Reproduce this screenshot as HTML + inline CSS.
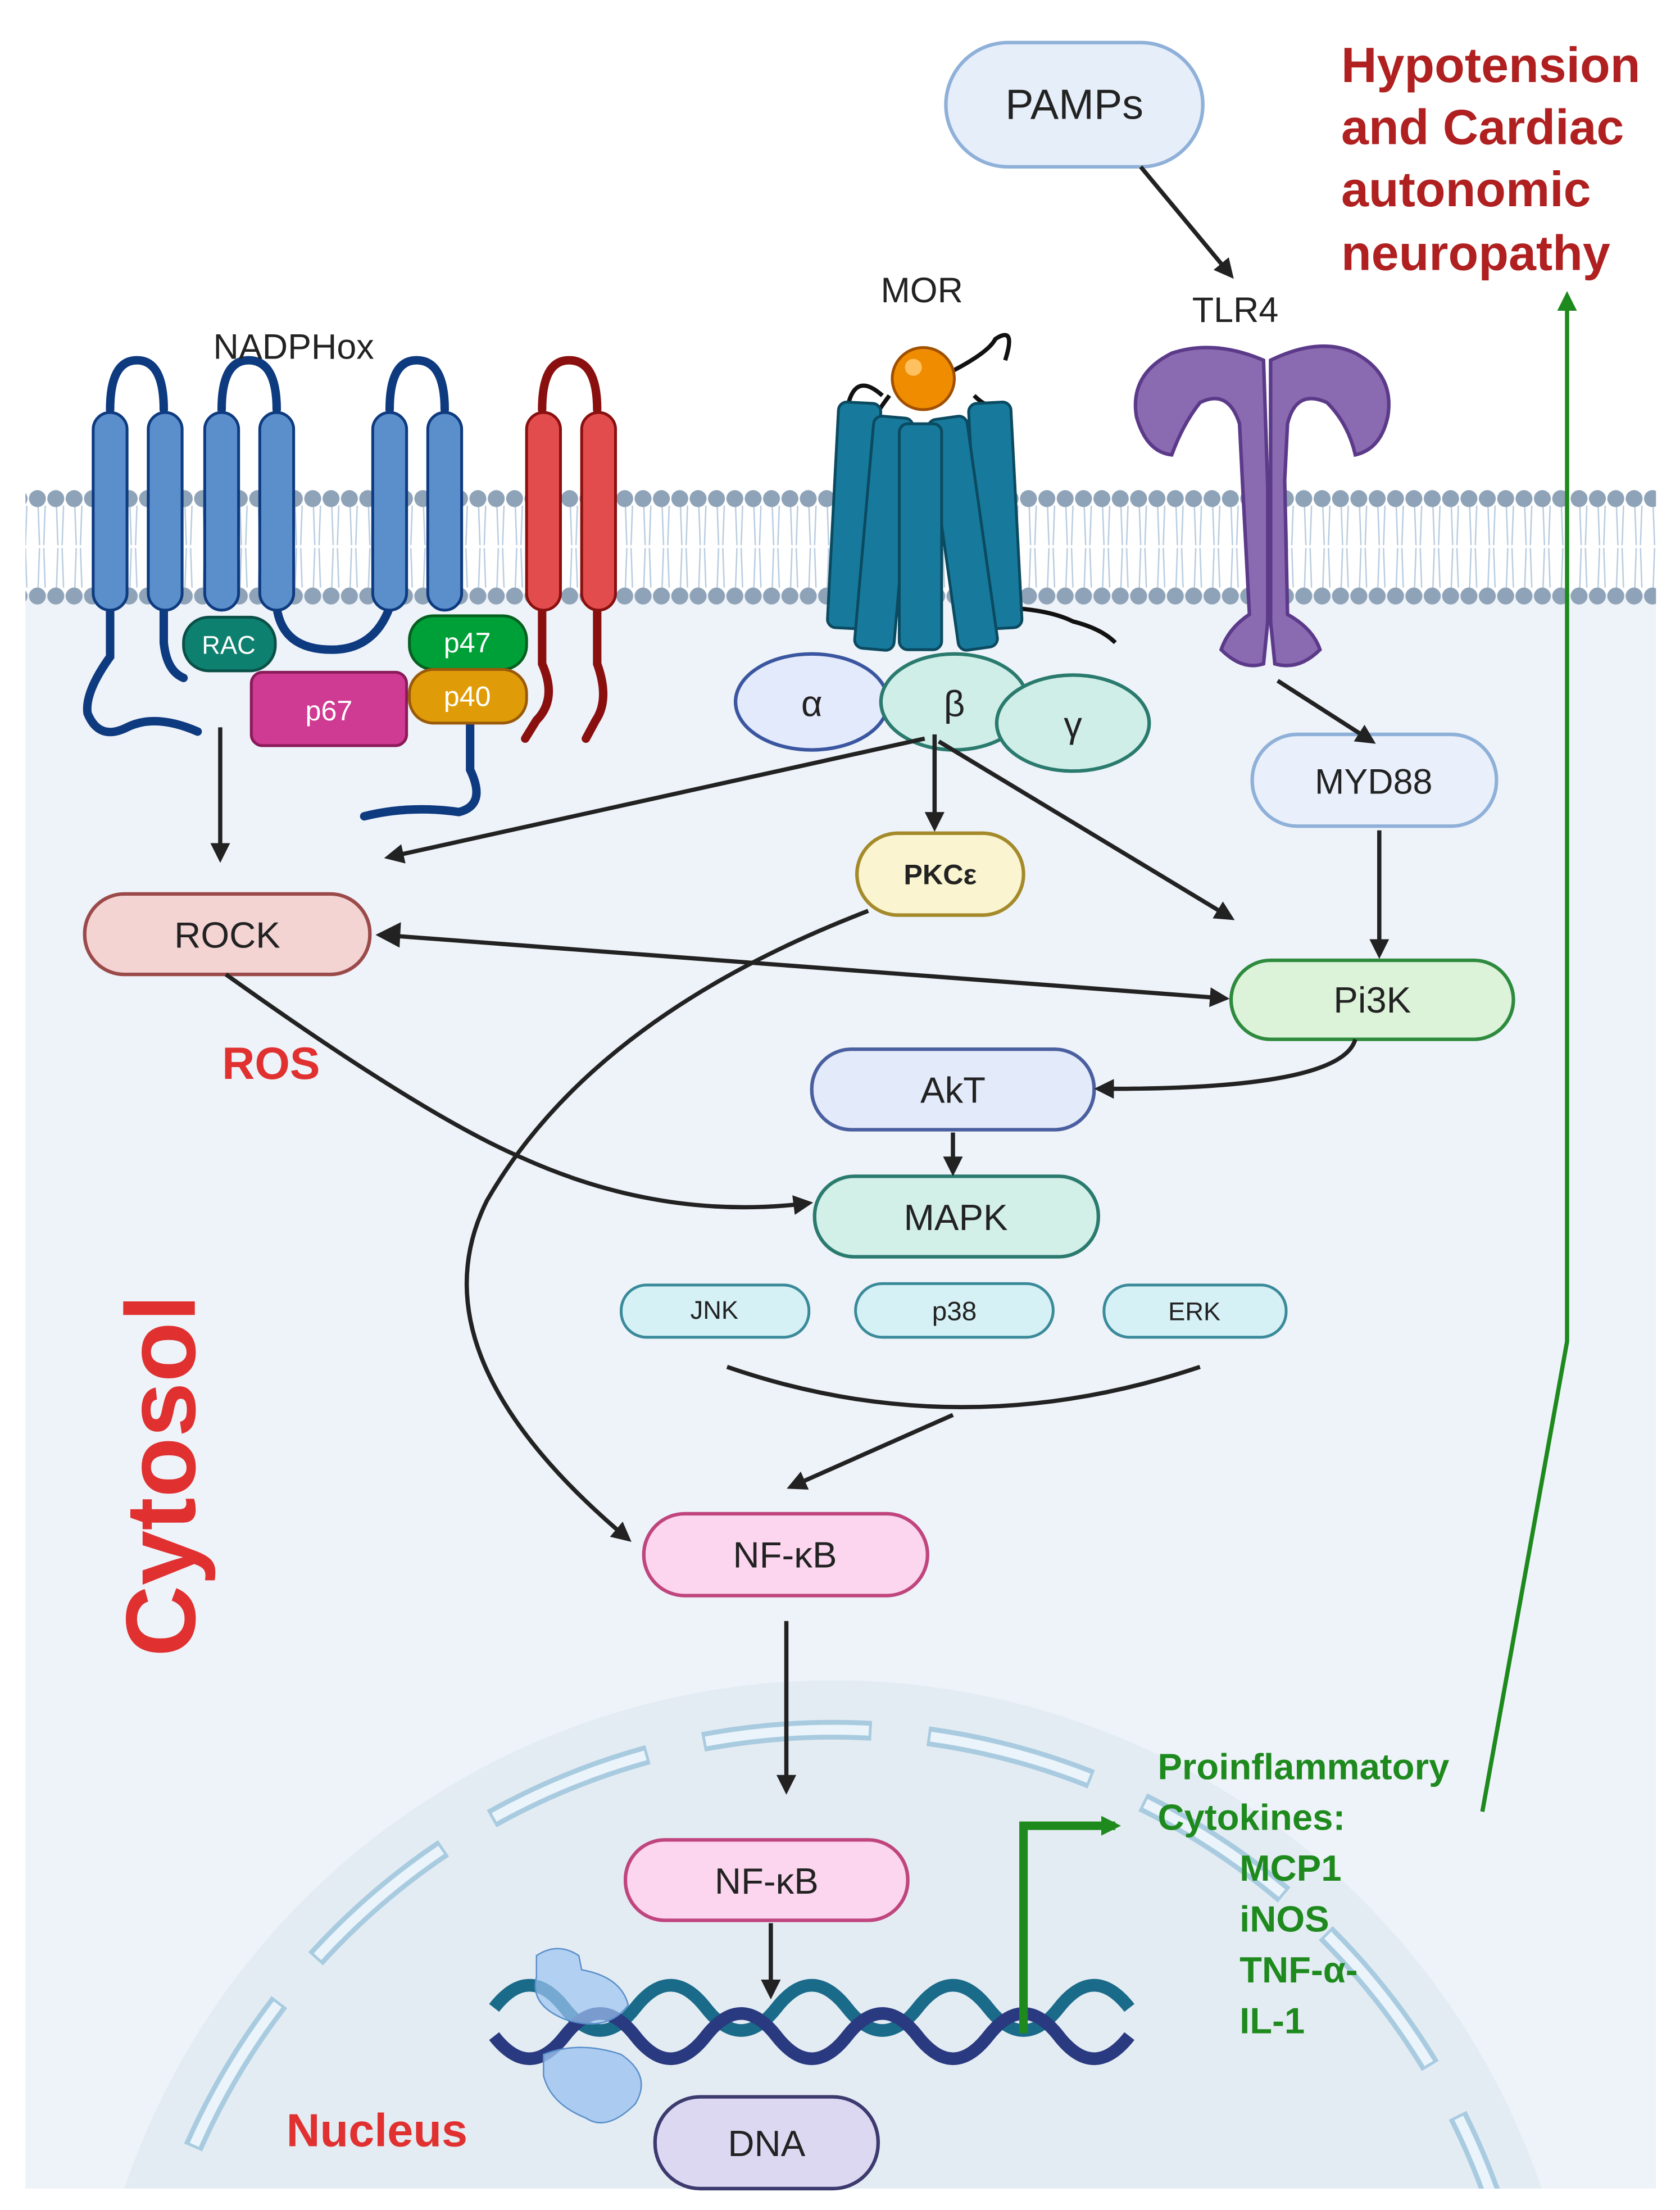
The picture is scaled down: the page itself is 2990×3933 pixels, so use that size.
<!DOCTYPE html>
<html><head><meta charset="utf-8"><style>html,body{margin:0;padding:0;background:#fff;width:2990px;height:3933px;overflow:hidden}svg{display:block}text{font-family:"Liberation Sans",sans-serif}</style></head><body>
<svg xmlns="http://www.w3.org/2000/svg" width="2990" height="3933" viewBox="0 0 1190 1565">
<defs>
<marker id="ah" markerWidth="14" markerHeight="14" refX="11" refY="7" orient="auto" markerUnits="userSpaceOnUse" viewBox="0 0 14 14"><path d="M0,0 L14,7 L0,14 z" fill="#222"/></marker>
<marker id="ahg" markerWidth="14" markerHeight="14" refX="10" refY="7" orient="auto" markerUnits="userSpaceOnUse" viewBox="0 0 14 14"><path d="M0,0 L14,7 L0,14 z" fill="#1e8a1e"/></marker>
<pattern id="lip" width="13" height="70" patternUnits="userSpaceOnUse" x="23" y="352">
<path d="M4,6 L5,34 M9,6 L8,34 M4,64 L5,36 M9,64 L8,36" stroke="#b8cce0" stroke-width="1" fill="none"/>
</pattern>
<pattern id="head" width="13" height="200" patternUnits="userSpaceOnUse" x="20" y="343">
<circle cx="6.5" cy="10" r="6" fill="#8fa3b8"/></pattern>
<pattern id="head2" width="13" height="200" patternUnits="userSpaceOnUse" x="20" y="412">
<circle cx="6.5" cy="10" r="6" fill="#8fa3b8"/></pattern>
</defs>
<rect width="1190" height="1565" fill="#fff"/>
<rect x="18" y="420" width="1155" height="1130" fill="#eef3f9"/>
<clipPath id="cl"><rect x="18" y="420" width="1155" height="1130"/></clipPath>
<g clip-path="url(#cl)">
<circle cx="590" cy="1720" r="530" fill="#e4ecf3"/>
<circle cx="590" cy="1720" r="495" fill="none" stroke="#a9cbe0" stroke-width="14" stroke-dasharray="120 40"/>
<circle cx="590" cy="1720" r="495" fill="none" stroke="#eaf4fa" stroke-width="7" stroke-dasharray="116 44" stroke-dashoffset="-2"/>
</g>
<rect x="18" y="352" width="1155" height="70" fill="url(#lip)"/>
<rect x="18" y="343" width="1155" height="20" fill="url(#head)"/>
<rect x="18" y="412" width="1155" height="20" fill="url(#head2)"/>
<g fill="none" stroke="#0e3a80" stroke-width="6" stroke-linecap="round">
<path d="M78,290 Q78,255 97,255 Q116,255 116,290"/>
<path d="M157,290 Q157,255 176,255 Q196,255 196,290"/>
<path d="M276,290 Q276,255 295,255 Q315,255 315,290"/>
<path d="M78,430 L78,465 Q60,490 62,505 Q70,525 90,515 Q110,505 140,518"/>
<path d="M116,430 L116,455 Q118,475 130,480"/>
<path d="M196,430 Q200,460 235,460 Q265,460 276,430"/>
<path d="M333,510 L333,545 Q345,570 325,575 Q290,570 258,578"/>
</g>
<g fill="none" stroke="#8a1010" stroke-width="6" stroke-linecap="round">
<path d="M384,290 Q384,255 403,255 Q423,255 423,290"/>
<path d="M384,430 L384,470 Q395,495 380,510 L372,523"/>
<path d="M423,430 L423,470 Q432,495 422,510 L415,523"/>
</g>
<g fill="#5a8fcb" stroke="#0e3a80" stroke-width="2">
<rect x="66" y="292" width="24" height="140" rx="12"/><rect x="105" y="292" width="24" height="140" rx="12"/>
<rect x="145" y="292" width="24" height="140" rx="12"/><rect x="184" y="292" width="24" height="140" rx="12"/>
<rect x="264" y="292" width="24" height="140" rx="12"/><rect x="303" y="292" width="24" height="140" rx="12"/>
</g>
<g fill="#e24c4c" stroke="#8a1010" stroke-width="2">
<rect x="373" y="292" width="24" height="140" rx="12"/><rect x="412" y="292" width="24" height="140" rx="12"/>
</g>
<rect x="130" y="437" width="65" height="38" rx="18" fill="#0e8070" stroke="#0a5048" stroke-width="2"/>
<text x="162" y="463" font-size="18" fill="#fff" text-anchor="middle">RAC</text>
<rect x="178" y="476" width="110" height="52" rx="8" fill="#cf3a92" stroke="#8a1a5a" stroke-width="2"/>
<text x="233" y="510" font-size="20" fill="#fff" text-anchor="middle">p67</text>
<rect x="290" y="436" width="83" height="38" rx="17" fill="#00a038" stroke="#05601f" stroke-width="2"/>
<text x="331" y="462" font-size="20" fill="#fff" text-anchor="middle">p47</text>
<rect x="290" y="474" width="83" height="38" rx="17" fill="#e09c08" stroke="#9a5a08" stroke-width="2"/>
<text x="331" y="500" font-size="20" fill="#fff" text-anchor="middle">p40</text>
<text x="208" y="254" font-size="25" fill="#222" text-anchor="middle">NADPHox</text>
<text x="653" y="214" font-size="25" fill="#222" text-anchor="middle">MOR</text>
<path d="M600,290 Q605,262 625,280 M670,265 Q700,250 705,240 Q720,230 712,255 M690,280 Q700,290 705,285 M630,280 Q615,300 620,300" fill="none" stroke="#111" stroke-width="3"/>
<path d="M700,430 Q740,430 760,440 Q780,445 790,455" fill="none" stroke="#111" stroke-width="3"/>
<g fill="#177a9c" stroke="#0b4a60" stroke-width="2">
<rect x="590" y="285" width="30" height="160" rx="6" transform="rotate(3 605 365)"/>
<rect x="690" y="285" width="30" height="160" rx="6" transform="rotate(-3 705 365)"/>
<rect x="612" y="295" width="28" height="165" rx="6" transform="rotate(5 626 378)"/>
<rect x="668" y="295" width="28" height="165" rx="6" transform="rotate(-8 682 378)"/>
<rect x="637" y="300" width="30" height="160" rx="6"/>
</g>
<circle cx="654" cy="268" r="22" fill="#f08c00" stroke="#a05000" stroke-width="2"/>
<circle cx="647" cy="260" r="6" fill="#ffc060"/>
<ellipse cx="575" cy="497" rx="54" ry="34" fill="#e3eafb" stroke="#3b56a0" stroke-width="2.5"/>
<text x="575" y="507" font-size="26" fill="#222" text-anchor="middle">α</text>
<ellipse cx="676" cy="497" rx="52" ry="34" fill="#cfeee8" stroke="#2a7a6e" stroke-width="2.5"/>
<text x="676" y="507" font-size="26" fill="#222" text-anchor="middle">β</text>
<ellipse cx="760" cy="512" rx="54" ry="34" fill="#cfeee8" stroke="#2a7a6e" stroke-width="2.5"/>
<text x="760" y="522" font-size="26" fill="#222" text-anchor="middle">γ</text>
<text x="875" y="228" font-size="25" fill="#222" text-anchor="middle">TLR4</text>
<g fill="#8a6ab0" stroke="#5c3a8a" stroke-width="2.5">
<path d="M895,255 Q860,240 830,250 Q800,265 805,295 Q812,320 830,322 Q838,300 850,285 Q870,275 878,300 L880,340 L885,435 Q870,445 865,460 Q880,475 895,470 L898,440 L898,345 Z"/>
<path d="M900,255 Q935,238 960,250 Q988,265 983,295 Q978,318 960,322 Q955,300 940,285 Q918,275 912,300 L910,340 L912,435 Q930,445 935,460 Q920,475 903,470 L900,440 L900,345 Z"/>
</g>
<rect x="670" y="30" width="182" height="88" rx="44" fill="#e6eefa" stroke="#8fb0d8" stroke-width="2.5"/>
<text x="761" y="84" font-size="30" fill="#222" text-anchor="middle">PAMPs</text>
<rect x="887" y="520" width="173" height="65" rx="32" fill="#e9f0fb" stroke="#8fb0d8" stroke-width="2.5"/>
<text x="973" y="562" font-size="25" fill="#222" text-anchor="middle">MYD88</text>
<rect x="607" y="590" width="118" height="58" rx="29" fill="#faf5d0" stroke="#a48a2a" stroke-width="2.5"/>
<text x="666" y="626" font-size="20" font-weight="bold" fill="#222" text-anchor="middle">PKCε</text>
<rect x="60" y="633" width="202" height="57" rx="28" fill="#f4d3d3" stroke="#9b4a4a" stroke-width="2.5"/>
<text x="161" y="671" font-size="26" fill="#222" text-anchor="middle">ROCK</text>
<rect x="872" y="680" width="200" height="56" rx="28" fill="#dcf3d9" stroke="#2e8b3e" stroke-width="2.5"/>
<text x="972" y="717" font-size="26" fill="#222" text-anchor="middle">Pi3K</text>
<rect x="575" y="743" width="200" height="57" rx="28" fill="#e3eaf9" stroke="#4a5f9f" stroke-width="2.5"/>
<text x="675" y="781" font-size="26" fill="#222" text-anchor="middle">AkT</text>
<rect x="577" y="833" width="201" height="57" rx="28" fill="#d2efe8" stroke="#2a7a6e" stroke-width="2.5"/>
<text x="677" y="871" font-size="26" fill="#222" text-anchor="middle">MAPK</text>
<rect x="440" y="910" width="133" height="37" rx="18" fill="#d5f1f6" stroke="#3a8a9a" stroke-width="2"/>
<text x="506" y="934" font-size="18" fill="#222" text-anchor="middle">JNK</text>
<rect x="606" y="909" width="140" height="38" rx="19" fill="#d5f1f6" stroke="#3a8a9a" stroke-width="2"/>
<text x="676" y="935" font-size="19" fill="#222" text-anchor="middle">p38</text>
<rect x="782" y="910" width="129" height="37" rx="18" fill="#d5f1f6" stroke="#3a8a9a" stroke-width="2"/>
<text x="846" y="935" font-size="18" fill="#222" text-anchor="middle">ERK</text>
<rect x="456" y="1072" width="201" height="58" rx="29" fill="#fbd6ee" stroke="#c0457e" stroke-width="2.5"/>
<text x="556" y="1110" font-size="26" fill="#222" text-anchor="middle">NF-κB</text>
<rect x="443" y="1303" width="200" height="57" rx="28" fill="#fbd6ee" stroke="#c0457e" stroke-width="2.5"/>
<text x="543" y="1341" font-size="26" fill="#222" text-anchor="middle">NF-κB</text>
<path d="M350,1432 Q375,1400 400,1432 T450,1432 T500,1432 T550,1432 T600,1432 T650,1432 T700,1432 T750,1432 T800,1432" fill="none" stroke="#1a6a8a" stroke-width="9" transform="translate(0,-10)"/>
<path d="M350,1432 Q375,1464 400,1432 T450,1432 T500,1432 T550,1432 T600,1432 T650,1432 T700,1432 T750,1432 T800,1432" fill="none" stroke="#2a3a80" stroke-width="9" transform="translate(0,10)"/>
<path d="M380,1385 Q395,1375 410,1385 L412,1395 Q440,1400 445,1420 Q430,1440 400,1430 Q375,1420 380,1400 Z" fill="#9cc4ef" fill-opacity="0.7" stroke="#5a8fcb"/>
<path d="M385,1455 Q410,1445 440,1455 Q462,1470 450,1490 Q430,1510 415,1500 Q390,1490 385,1470 Z" fill="#9cc4ef" fill-opacity="0.8" stroke="#5a8fcb"/>
<rect x="464" y="1485" width="158" height="65" rx="32" fill="#dcd8f1" stroke="#3c3a6e" stroke-width="2.5"/>
<text x="543" y="1527" font-size="26" fill="#222" text-anchor="middle">DNA</text>
<g fill="none" stroke="#222" stroke-width="3" marker-end="url(#ah)">
<path d="M808,118 L872,195"/>
<path d="M905,482 L972,525"/>
<path d="M977,588 L977,676"/>
<path d="M156,515 L156,608"/>
<path d="M662,520 L662,586"/>
<path d="M655,523 L275,607"/>
<path d="M665,525 L872,650"/>
<path d="M960,736 Q950,772 778,771"/>
<path d="M675,802 L675,830"/>
<path d="M160,690 Q300,790 370,820 Q470,865 573,852"/>
<path d="M615,645 Q420,720 345,850 Q290,960 445,1090"/>
<path d="M675,1002 L560,1053"/>
<path d="M557,1148 L557,1268"/>
<path d="M546,1362 L546,1413"/>
<path d="M270,662 L868,707"/>
</g>
<path d="M266,662 L284,653 L283,671 Z" fill="#222"/>
<path d="M515,968 Q680,1025 850,968" fill="none" stroke="#222" stroke-width="3"/>
<path d="M725,1440 L725,1293 L790,1293" fill="none" stroke="#1e8a1e" stroke-width="6" marker-end="url(#ahg)"/>
<path d="M1050,1283 L1110,950 L1110,210" fill="none" stroke="#1e8a1e" stroke-width="3" marker-end="url(#ahg)"/>
<g font-weight="bold" fill="#1e8a1e" font-size="26">
<text x="820" y="1260">Proinflammatory</text><text x="820" y="1296">Cytokines:</text>
<text x="878" y="1332">MCP1</text><text x="878" y="1368">iNOS</text><text x="878" y="1404">TNF-α-</text><text x="878" y="1440">IL-1</text>
</g>
<g font-weight="bold" fill="#b02020" font-size="35">
<text x="950" y="58">Hypotension</text><text x="950" y="102">and Cardiac</text><text x="950" y="146">autonomic</text><text x="950" y="191">neuropathy</text>
</g>
<text x="192" y="764" font-size="32" font-weight="bold" fill="#e03030" text-anchor="middle">ROS</text>
<text x="267" y="1520" font-size="33" font-weight="bold" fill="#e03030" text-anchor="middle">Nucleus</text>
<text transform="translate(138,1045) rotate(-90)" font-size="70" font-weight="bold" fill="#e03030" text-anchor="middle">Cytosol</text>
</svg>
</body></html>
